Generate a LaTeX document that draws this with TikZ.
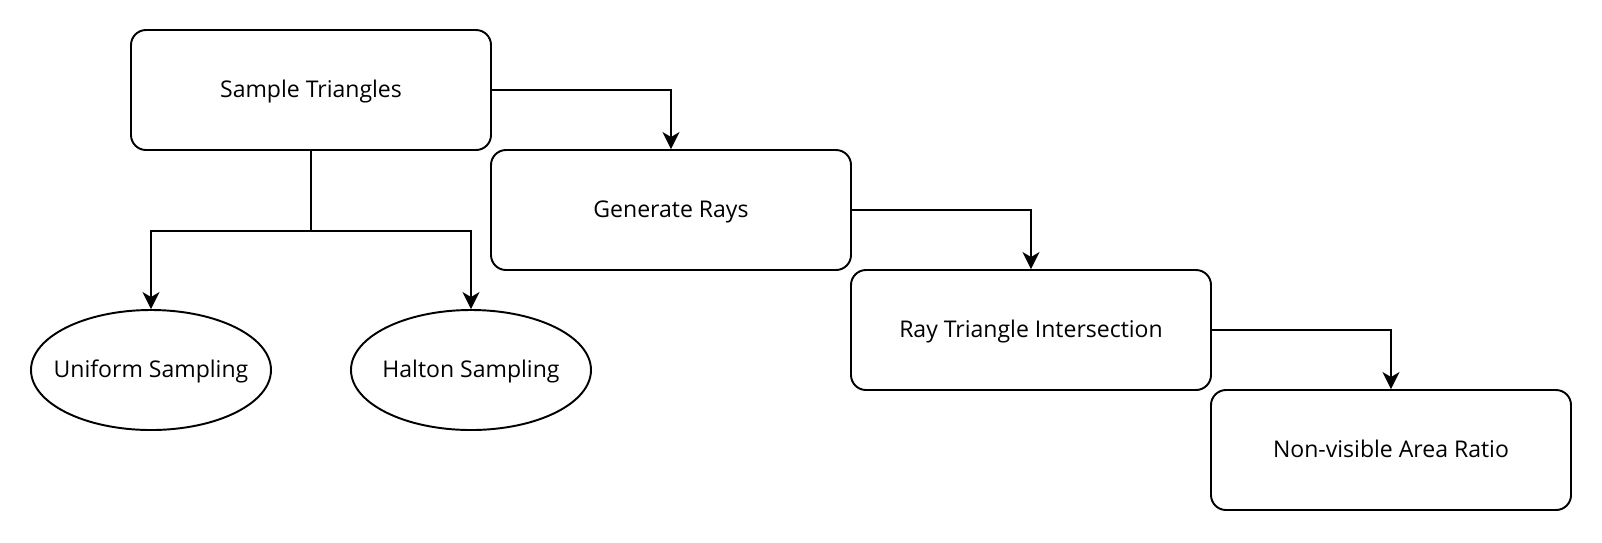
\documentclass[tikz,border=0pt]{standalone}
\usepackage{fontspec}
\setmainfont{Open Sans}
\usetikzlibrary{arrows.meta,shapes.geometric}

\begin{document}
\begin{tikzpicture}[font=\fontsize{13.1}{16}\selectfont, line width=1.1pt,
	stepbox/.style={draw, rounded corners=0.3cm, minimum width=7.2cm, minimum height=2.4cm, text height=0.86em, text depth=0pt},
	oval/.style={draw, ellipse, minimum width=4.8cm, minimum height=2.4cm, inner ysep=0pt, inner xsep=-0.5cm, text height=0.86em, text depth=0pt},
	arr/.style={-{Stealth[length=0.34cm, width=0.34cm, inset=0.1cm]}}]
			\useasboundingbox (0,0) rectangle (32.04,-10.84);
			
			\node (st) at (6.22,-1.8)[stepbox]{Sample Triangles};
			\node (gen) at (13.42,-4.2)[stepbox]{Generate Rays};
			\node (rti) at (20.62,-6.6)[stepbox]{Ray Triangle Intersection};
			\node (nar) at (27.82,-9.0)[stepbox]{Non-visible Area Ratio};
			
			\node (uni) at (3.02,-7.4)[oval]{Uniform Sampling};
			\node (hal) at (9.42,-7.4)[oval]{Halton Sampling};
			
			\draw[arr] (st.east) -| (gen.north);
			\draw[arr] (gen.east) -| (rti.north);
			\draw[arr] (rti.east) -| (nar.north);
			
			\draw (st.south) -- ++(0,-1.6) coordinate (split);
			\draw[arr] (split) -| (uni.north);
			\draw[arr] (split) -| (hal.north);
		\end{tikzpicture}
\end{document}
